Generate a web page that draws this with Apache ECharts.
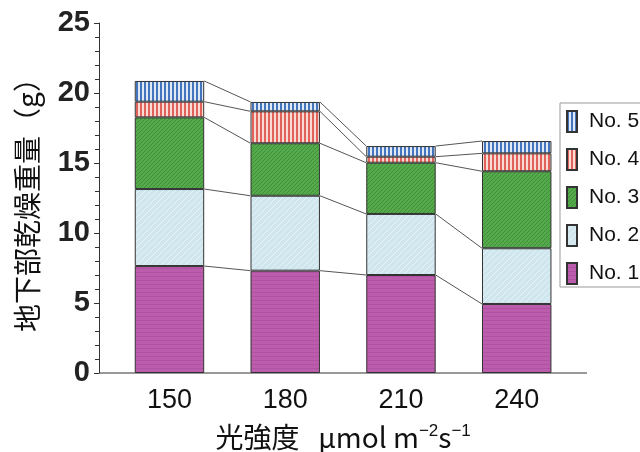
<!DOCTYPE html>
<html>
<head>
<meta charset="utf-8">
<script src="https://cdn.jsdelivr.net/npm/echarts@6/dist/echarts.min.js"></script>
<style>
html,body{margin:0;padding:0;background:#fff;}
#c{width:640px;height:452px;}
</style>
</head>
<body>
<div id="c"></div>
<script>
const categories = ['150', '180', '210', '240'];
const seriesNames = ['No. 1', 'No. 2', 'No. 3', 'No. 4', 'No. 5'];
const no1 = [7.64, 7.31, 7.00, 4.93];
const no2 = [5.50, 5.35, 4.36, 3.98];
const no3 = [5.12, 3.75, 3.66, 5.50];
const no4 = [1.12, 2.28, 0.43, 1.28];
const no5 = [1.48, 0.67, 0.76, 0.88];
const yMin = 0, yMax = 25, yInterval = 5;

function pattern(w, h, draw) {
  const c = document.createElement('canvas');
  c.width = w; c.height = h;
  const g = c.getContext('2d');
  draw(g, w, h);
  return { image: c, repeat: 'repeat' };
}
const fills = [
  pattern(4, 4, (g) => { g.fillStyle = '#bb5cad'; g.fillRect(0,0,4,4); g.fillStyle = 'rgba(150,60,140,0.3)'; g.fillRect(0,0,4,1); }),
  pattern(6, 6, (g) => { g.fillStyle = '#cfe6ee'; g.fillRect(0,0,6,6); g.fillStyle = 'rgba(255,255,255,0.5)'; for (let i=0;i<6;i++) g.fillRect(i,5-i,1,1); }),
  pattern(4, 4, (g) => { g.fillStyle = '#55aa4c'; g.fillRect(0,0,4,4); g.fillStyle = 'rgba(40,110,40,0.45)'; for (let i=0;i<4;i++) g.fillRect(i,3-i,1,1); }),
  pattern(4, 4, (g) => { g.fillStyle = '#f8dcd4'; g.fillRect(0,0,4,4); g.fillStyle = '#e0625a'; g.fillRect(0,0,2,4); }),
  pattern(4, 4, (g) => { g.fillStyle = '#dfe9f6'; g.fillRect(0,0,4,4); g.fillStyle = '#4474bb'; g.fillRect(0,0,2,4); })
];

const values = [no1, no2, no3, no4, no5];
const cum = [];
values.forEach((arr, s) => {
  cum.push(arr.map((v, i) => (s ? cum[s-1][i] : 0) + v));
});
const connData = [];
cum.forEach(tops => {
  for (let i = 0; i < tops.length - 1; i++) connData.push([i, tops[i], tops[i+1]]);
});
const barRatio = 0.6;

const chart = echarts.init(document.getElementById('c'));
const series = values.map((arr, s) => ({
  name: seriesNames[s],
  type: 'bar',
  stack: 'total',
  barWidth: (barRatio * 100) + '%',
  data: arr,
  itemStyle: { color: fills[s], borderColor: '#333', borderWidth: 1 },
  emphasis: { disabled: true }
}));
series.push({
  type: 'custom',
  name: 'conn',
  silent: true,
  data: connData,
  encode: { x: 0, y: [1, 2] },
  renderItem: function (params, api) {
    const i = api.value(0);
    const a = api.coord([i, api.value(1)]);
    const b = api.coord([i + 1, api.value(2)]);
    const hw = api.size([1, 0])[0] * barRatio / 2;
    return { type: 'line', shape: { x1: a[0] + hw, y1: a[1], x2: b[0] - hw, y2: b[1] },
             style: { stroke: '#555', lineWidth: 1 } };
  },
  z: 1
});

chart.setOption({
  animation: false,
  backgroundColor: '#fff',
  grid: { left: 111.6, right: 65.4, top: 23, bottom: 79, containLabel: false, outerBoundsMode: 'none' },
  legend: {
    data: seriesNames.slice().reverse(),
    orient: 'vertical',
    left: 560, top: 103,
    padding: [7, 60, 2, 6],
    itemGap: 15,
    itemWidth: 10, itemHeight: 21,
    icon: 'rect',
    borderColor: '#999', borderWidth: 1,
    textStyle: { fontFamily: 'Liberation Sans', fontSize: 21, color: '#111', padding: [0,0,0,7] }
  },
  xAxis: {
    type: 'category',
    data: categories,
    axisLine: { show: false },
    axisTick: { show: false },
    axisLabel: { fontFamily: 'Liberation Sans', fontSize: 27, color: '#111', margin: 14 },
    name: '光強度   μmol m{sup|−2}s{sup|−1}',
    nameLocation: 'middle',
    nameGap: 50,
    nameTextStyle: {
      fontFamily: 'Noto Sans CJK JP', fontSize: 28, color: '#111',
      rich: { sup: { fontFamily: 'Liberation Sans', fontSize: 17, color: '#111', verticalAlign: 'top', padding: [0,0,12,0] } }
    }
  },
  yAxis: {
    type: 'value',
    min: yMin, max: yMax, interval: yInterval,
    offset: 12.6,
    splitLine: { show: false },
    axisLine: { show: true, lineStyle: { color: '#333', width: 1 } },
    axisTick: { show: true, inside: false, length: 5, lineStyle: { color: '#333' } },
    minorTick: { show: true, splitNumber: 5, length: 4, lineStyle: { color: '#333' } },
    axisLabel: { fontFamily: 'Liberation Sans', fontWeight: 'bold', fontSize: 29, color: '#222', margin: 9 },
    name: '地下部乾燥重量（g）',
    nameLocation: 'middle',
    nameRotate: 90,
    nameGap: 58,
    nameTextStyle: { fontFamily: 'Noto Sans CJK JP', fontSize: 28, color: '#111' }
  },
  series: series
});

const y0 = chart.convertToPixel({ yAxisIndex: 0 }, 0);
chart.setOption({
  graphic: [{ type: 'line', shape: { x1: 99, y1: y0, x2: 587, y2: y0 }, style: { stroke: '#333', lineWidth: 1 }, z: 10 }]
});
</script>
</body>
</html>
